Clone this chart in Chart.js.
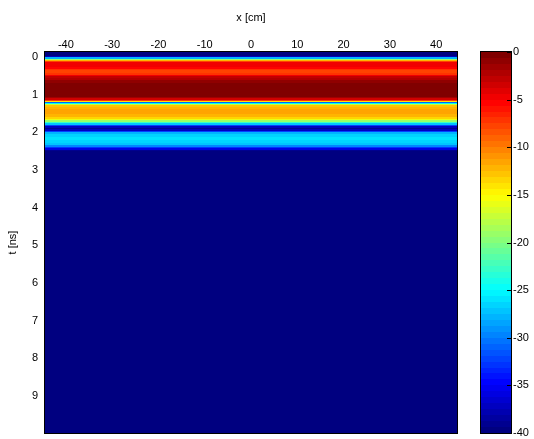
<!doctype html>
<html lang="en">
<head>
  <meta charset="UTF-8" />
  <title>t-x map</title>
  <script src="https://cdn.jsdelivr.net/npm/chart.js@4.4.4/dist/chart.umd.min.js"></script>
  <style>
    body {
      margin: 0;
      background: #fff;
    }
    canvas {
      display: block;
    }
  </style>
</head>
<body>
  <canvas id="map" width="534" height="439"></canvas>

  <script>
    // time samples (ns) and level (dB); bands are flat in x
    const tNs = [-0.13, -0.05, 0.0, 0.03, 0.06, 0.09, 0.12, 0.16, 0.2, 0.25, 0.29, 0.34, 0.38, 0.42,
      0.46, 0.5, 0.54, 0.58, 0.65, 0.75, 0.85, 0.95, 1.03, 1.08, 1.12, 1.15, 1.18, 1.21, 1.24,
      1.27, 1.3, 1.34, 1.4, 1.48, 1.56, 1.62, 1.66, 1.7, 1.74, 1.78, 1.82, 1.86, 1.9, 1.94,
      1.98, 2.02, 2.08, 2.16, 2.24, 2.32, 2.37, 2.41, 2.45, 2.49, 2.53, 9.98];
    const levelDb = [-40, -40, -37, -28, -19, -12, -8, -5, -4.5, -5, -5.5, -7, -8, -8,
      -7.5, -5, -3, -2, -1.2, -0.6, -0.3, -0.3, -0.6, -1.5, -3.5, -7, -14, -31, -25,
      -17, -13, -12, -11.5, -11.5, -12, -13.5, -16, -19, -23, -27, -32, -37, -39, -37,
      -32, -28, -26.5, -26, -26.5, -27.5, -30, -33, -36, -39, -40, -40];

    const xRange = [-44.5, 44.5];
    const tRange = [-0.13, 9.98];
    const dbRange = [-40, 0];
    const xTicks = [-40, -30, -20, -10, 0, 10, 20, 30, 40];
    const tTicks = [0, 1, 2, 3, 4, 5, 6, 7, 8, 9];
    const dbTicks = [0, -5, -10, -15, -20, -25, -30, -35, -40];
    const nLevels = 64;

    const FONT = { family: '"Liberation Sans", Arial, sans-serif', size: 11 };

    function clamp01(v) {
      return Math.max(0, Math.min(1, v));
    }

    // matlab jet, quantised to 64 levels
    function jet(db) {
      let f = (db - dbRange[0]) / (dbRange[1] - dbRange[0]);
      let k = Math.min(nLevels - 1, Math.max(0, Math.floor(f * nLevels)));
      f = k / (nLevels - 1);
      const r = clamp01(Math.min(4 * f - 1.5, -4 * f + 4.5));
      const g = clamp01(Math.min(4 * f - 0.5, -4 * f + 3.5));
      const b = clamp01(Math.min(4 * f + 0.5, -4 * f + 2.5));
      return `rgb(${Math.round(r * 255)},${Math.round(g * 255)},${Math.round(b * 255)})`;
    }

    function fixTicks(values) {
      return (scale) => {
        scale.ticks = values.map((v) => ({ value: v }));
      };
    }

    // fixed axis size; drop the label overhang so the plot box stays put
    function fixSize(prop, size) {
      return (scale) => {
        scale[prop] = size;
        scale.paddingTop = 0;
        scale.paddingBottom = 0;
        scale.paddingLeft = 0;
        scale.paddingRight = 0;
      };
    }

    const CB_LEFT = 481;
    const CB_WIDTH = 30;

    const mapPlugin = {
      id: 'mapPlugin',
      beforeDatasetsDraw(chart) {
        const { ctx, chartArea, scales } = chart;
        const x = scales.x;
        const y = scales.y;
        const cb = scales.cb;

        ctx.save();
        ctx.beginPath();
        ctx.rect(chartArea.left, chartArea.top, chartArea.width, chartArea.height);
        ctx.clip();
        const left = x.getPixelForValue(xRange[0]);
        const right = x.getPixelForValue(xRange[1]);
        for (let i = 0; i < tNs.length; i++) {
          const lo = i === 0 ? tRange[0] : (tNs[i - 1] + tNs[i]) / 2;
          const hi = i === tNs.length - 1 ? tRange[1] : (tNs[i] + tNs[i + 1]) / 2;
          const p0 = Math.round(y.getPixelForValue(lo));
          const p1 = Math.round(y.getPixelForValue(hi));
          ctx.fillStyle = jet(levelDb[i]);
          ctx.fillRect(left, p0, right - left, p1 - p0);
        }
        ctx.restore();

        // colour bar
        const step = (dbRange[1] - dbRange[0]) / nLevels;
        for (let k = 0; k < nLevels; k++) {
          const v0 = dbRange[0] + k * step;
          const p0 = Math.round(cb.getPixelForValue(v0));
          const p1 = Math.round(cb.getPixelForValue(v0 + step));
          ctx.fillStyle = jet(v0 + step / 2);
          ctx.fillRect(CB_LEFT, p1, CB_WIDTH, p0 - p1);
        }
      },
      afterDatasetsDraw(chart) {
        const { ctx, chartArea, scales } = chart;
        const cb = scales.cb;
        ctx.save();
        ctx.strokeStyle = '#000';
        ctx.lineWidth = 1;
        ctx.strokeRect(chartArea.left - 0.5, chartArea.top - 0.5, chartArea.width + 1, chartArea.height + 1);
        ctx.strokeRect(CB_LEFT - 0.5, chartArea.top - 0.5, CB_WIDTH + 1, chartArea.height + 1);
        ctx.beginPath();
        dbTicks.forEach((v) => {
          const p = Math.round(cb.getPixelForValue(v)) + 0.5;
          ctx.moveTo(CB_LEFT + CB_WIDTH, p);
          ctx.lineTo(CB_LEFT + CB_WIDTH - 4, p);
        });
        ctx.stroke();
        ctx.restore();
      }
    };

    new Chart(document.getElementById('map'), {
      type: 'scatter',
      data: { datasets: [{ data: [] }] },
      plugins: [mapPlugin],
      options: {
        responsive: false,
        animation: false,
        layout: { padding: { top: 0, right: 0, bottom: 6, left: 0 } },
        plugins: {
          legend: { display: false },
          tooltip: { enabled: false }
        },
        scales: {
          x: {
            type: 'linear',
            position: 'top',
            min: xRange[0],
            max: xRange[1],
            afterBuildTicks: fixTicks(xTicks),
            afterFit: fixSize('height', 52),
            grid: { display: false, drawTicks: false },
            border: { display: false },
            ticks: { color: '#000', font: FONT, padding: 0, maxRotation: 0, autoSkip: false },
            title: { display: true, text: 'x [cm]', color: '#000', font: FONT, padding: { top: 11, bottom: 0 } }
          },
          y: {
            type: 'linear',
            position: 'left',
            reverse: true,
            min: tRange[0],
            max: tRange[1],
            afterBuildTicks: fixTicks(tTicks),
            afterFit: fixSize('width', 45),
            grid: { display: false, drawTicks: false },
            border: { display: false },
            ticks: { color: '#000', font: FONT, padding: 7, autoSkip: false },
            title: { display: true, text: 't [ns]', color: '#000', font: FONT, padding: { top: 6, bottom: 0 } }
          },
          cb: {
            type: 'linear',
            position: 'right',
            min: dbRange[0],
            max: dbRange[1],
            afterBuildTicks: fixTicks(dbTicks),
            afterFit: fixSize('width', 77),
            grid: { display: false, drawTicks: false },
            border: { display: false },
            ticks: { color: '#000', font: FONT, padding: 56, autoSkip: false }
          }
        }
      }
    });
  </script>
</body>
</html>
